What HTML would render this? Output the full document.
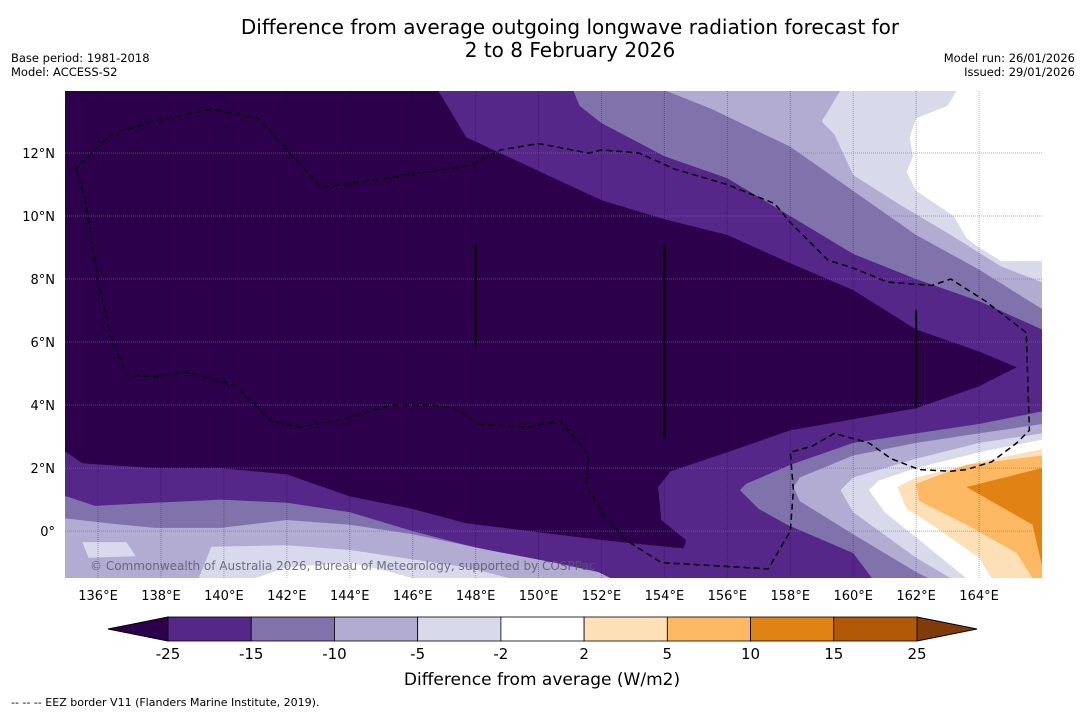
<!DOCTYPE html>
<html><head><meta charset="utf-8"><style>
html,body{margin:0;padding:0;background:#fff;}
svg{display:block;font-family:"DejaVu Sans","Liberation Sans",sans-serif;}
</style></head><body>
<svg id="chart" width="1085" height="713" viewBox="0 0 1085 713" xmlns="http://www.w3.org/2000/svg">
<text x="570" y="34" font-size="20" text-anchor="middle">Difference from average outgoing longwave radiation forecast for</text>
<text x="570" y="57" font-size="20" text-anchor="middle">2 to 8 February 2026</text>
<text x="11" y="62" font-size="11.5">Base period: 1981-2018</text>
<text x="11" y="76" font-size="11.5">Model: ACCESS-S2</text>
<text x="1075" y="62" font-size="11.5" text-anchor="end">Model run: 26/01/2026</text>
<text x="1075" y="76" font-size="11.5" text-anchor="end">Issued: 29/01/2026</text>
<defs><clipPath id="mapclip"><rect x="65" y="91" width="977" height="487"/></clipPath></defs>
<g id="map" clip-path="url(#mapclip)"></g>
<g id="axes"></g>
<g id="cbar"></g>
<text x="542" y="685" font-size="17" text-anchor="middle">Difference from average (W/m2)</text>
<text x="11" y="706" font-size="11">--  --  -- EEZ border V11 (Flanders Marine Institute, 2019).</text>
</svg>
<script>
const lonTicks=[136,138,140,142,144,146,148,150,152,154,156,158,160,162,164];
const latTicks=[0,2,4,6,8,10,12];
const cbLevels=[-25,-15,-10,-5,-2,2,5,10,15,25];
const cbColors=["#542788","#8073ac","#b2abd2","#d8daeb","#ffffff","#fee0b6","#fdb863","#e08214","#b35806"];
const darkRegion=[[134.5,14.5],[146.8,14.5],[146.8,14.0],[147.7,12.5],[152.0,10.5],[154.0,9.9],[156.0,9.4],[158.0,8.5],[160.0,7.65],[162.0,6.4],[164.0,5.7],[165.2,5.2],[164.0,4.6],[162.0,3.9],[160.0,3.55],[158.0,3.2],[156.0,2.5],[154.2,1.9],[153.8,1.4],[153.9,0.35],[154.7,-0.3],[154.6,-0.55],[152.6,-0.35],[150.5,-0.1],[147.7,0.25],[146.0,0.7],[144.0,1.1],[142.0,1.8],[139.9,2.0],[137.8,2.0],[135.5,2.15],[135.0,2.5],[134.5,2.5]];
const topM15=[[151.1,14.5],[151.1,14.0],[151.3,13.5],[152.0,12.95],[154.0,11.9],[156.0,11.2],[158.0,10.0],[160.0,8.8],[162.0,8.0],[164.0,7.3],[166.0,6.4],[167,6.4],[167,14.5]];
const topM10=[[154.0,14.5],[154.0,14.0],[155.5,13.4],[158.0,12.2],[160.0,10.8],[162.0,9.4],[164.0,8.3],[166.0,7.05],[167,7.05],[167,14.5]];
const topM5=[[159.6,14.5],[159.6,14.0],[159.0,13.0],[159.4,12.6],[160.0,11.3],[161.5,10.35],[163.1,9.4],[164.7,8.4],[166.0,7.9],[167,7.9],[167,14.5]];
const topM2=[[163.4,14.5],[163.3,14.0],[163.0,13.5],[162.0,13.1],[161.8,12.5],[161.9,11.9],[161.7,11.4],[162.0,10.8],[163.2,10.0],[163.6,9.3],[164.0,9.0],[164.7,8.57],[166.0,8.57],[167,8.57],[167,14.5]];
const brM15=[[167,3.8],[166.0,3.8],[164.0,3.4],[162.0,3.1],[160.0,2.8],[158.0,2.1],[156.6,1.5],[156.4,1.3],[157.0,0.7],[157.9,0.2],[160.0,-0.7],[160.6,-1.5],[160.6,-2],[167,-2]];
const brM10=[[167,3.4],[166.0,3.4],[164.0,3.1],[162.0,2.8],[160.0,2.4],[158.3,1.7],[158.1,1.4],[158.3,0.95],[160.0,-0.1],[162.0,-1.3],[162.4,-1.5],[162.4,-2],[167,-2]];
const brM5=[[167,3.1],[166.0,3.1],[164.0,2.8],[162.0,2.3],[160.0,1.7],[159.6,1.3],[160.0,0.6],[162.0,-0.85],[163.1,-1.5],[163.1,-2],[167,-2]];
const brM2=[[167,2.9],[166.0,2.9],[164.0,2.5],[162.0,2.0],[160.8,1.6],[160.5,1.3],[161.0,0.6],[162.0,-0.2],[163.6,-1.5],[163.6,-2],[167,-2]];
const brP2=[[167,2.6],[166.0,2.6],[164.0,2.2],[162.0,1.7],[161.4,1.4],[161.7,0.7],[162.5,0.2],[164.0,-0.85],[164.4,-1.5],[164.4,-2],[167,-2]];
const brP5=[[167,2.4],[166.0,2.4],[163.6,2.1],[162.0,1.5],[162.1,0.95],[163.6,0.2],[165.2,-0.7],[165.7,-1.5],[165.7,-2],[167,-2]];
const brP10=[[167,2.0],[166.0,2.0],[163.6,1.4],[165.7,0.2],[166.0,-1.1],[167,-1.1]];
const blM15=[[134,1.1],[135.0,1.1],[135.9,0.8],[137.8,0.9],[139.9,1.0],[142.0,0.9],[144.0,0.6],[146.0,0.0],[148.1,-0.55],[150.0,-1.1],[151.3,-1.5],[151.3,-2],[134,-2]];
const blM10=[[134,0.4],[135.0,0.4],[136.3,0.25],[137.8,0.1],[139.9,0.1],[142.0,0.35],[144.0,0.2],[146.0,-0.1],[148.4,-0.6],[150.5,-1.0],[151.9,-1.3],[152.3,-1.5],[152.3,-2],[134,-2]];
const blM5=[[139.2,-1.5],[139.6,-0.5],[142.0,-0.45],[144.0,-0.6],[146.0,-0.9],[147.7,-1.15],[149.1,-1.5],[149.1,-2],[139.2,-2]];
const blM5b=[[135.5,-0.35],[136.9,-0.35],[137.2,-0.8],[135.7,-0.85]];
const blM2=[[141.0,-1.5],[142.0,-1.15],[144.0,-1.0],[145.1,-1.25],[146.0,-1.5],[146,-2],[141,-2]];
const eez=[[135.3,11.5],[135.6,10.5],[136.0,7.9],[136.4,6.2],[136.9,4.95],[137.8,4.9],[138.8,5.05],[140.4,4.6],[141.5,3.5],[142.4,3.3],[144.0,3.6],[145.3,4.0],[146.6,4.0],[147.3,3.9],[148.1,3.4],[149.6,3.3],[150.7,3.5],[151.6,2.4],[151.5,1.5],[152.0,0.6],[152.8,-0.3],[153.9,-1.0],[157.3,-1.2],[158.0,0.0],[158.1,1.3],[158.0,2.5],[158.7,2.7],[159.4,3.1],[160.5,2.8],[161.2,2.3],[162.1,1.95],[163.1,1.9],[163.6,1.95],[164.4,2.2],[165.2,2.8],[165.6,3.2],[165.5,6.3],[164.2,7.3],[163.1,8.0],[162.5,7.8],[161.1,7.9],[160.0,8.35],[159.2,8.6],[158.0,9.8],[157.5,10.4],[156.0,11.0],[154.3,11.5],[153.2,12.0],[152.0,12.1],[151.6,12.0],[150.0,12.3],[148.8,12.1],[147.8,11.6],[143.1,10.9],[141.1,13.1],[139.6,13.4],[137.7,13.0],[136.4,12.6],[135.3,11.5]];
const vLines=[[148.0,9.1,5.9],[154.0,9.1,2.95],[162.0,7.0,3.9]];

const NS="http://www.w3.org/2000/svg";
const LON0=134.95,LON1=166.0,LAT0=-1.49,LAT1=13.97,X0=65,X1=1042,Y0=578,Y1=91;
function xs(lon){return X0+(lon-LON0)/(LON1-LON0)*(X1-X0);}
function ys(lat){return Y0+(lat-LAT0)/(LAT1-LAT0)*(Y1-Y0);}
function pts(a){return a.map(p=>xs(p[0]).toFixed(1)+","+ys(p[1]).toFixed(1)).join(" ");}
function mk(tag,attrs,parent){const e=document.createElementNS(NS,tag);for(const k in attrs)e.setAttribute(k,attrs[k]);parent.appendChild(e);return e;}
const map=document.getElementById("map");
let r=mk("rect",{x:65,y:91,width:977,height:487,fill:"#542788"},map);


function poly(a,fill,name){const p=mk("polygon",{points:pts(a),fill:fill},map);

}
poly(darkRegion,"#2d004b","region-below-minus25");
poly(topM15,"#8073ac","north-band-minus10-to-minus15");
poly(topM10,"#b2abd2","north-band-minus5-to-minus10");
poly(topM5,"#d8daeb","north-band-minus2-to-minus5");
poly(topM2,"#ffffff","north-band-near-normal");
poly(blM15,"#8073ac","southwest-band-minus10-to-minus15");
poly(blM10,"#b2abd2","southwest-band-minus5-to-minus10");
poly(blM5,"#d8daeb","southwest-band-minus2-to-minus5");
poly(blM5b,"#d8daeb","southwest-patch-minus2-to-minus5");
poly(blM2,"#ffffff","southwest-band-near-normal");
poly(brM15,"#8073ac","southeast-band-minus10-to-minus15");
poly(brM10,"#b2abd2","southeast-band-minus5-to-minus10");
poly(brM5,"#d8daeb","southeast-band-minus2-to-minus5");
poly(brM2,"#ffffff","southeast-band-near-normal");
poly(brP2,"#fee0b6","southeast-band-2-to-5");
poly(brP5,"#fdb863","southeast-band-5-to-10");
poly(brP10,"#e08214","southeast-band-10-to-15");
lonTicks.forEach(l=>{const g=mk("line",{x1:xs(l),x2:xs(l),y1:91,y2:578,stroke:"rgba(0,0,0,0.3)","stroke-width":1,"stroke-dasharray":"1,1"},map);

});
latTicks.forEach(l=>{const g=mk("line",{x1:65,x2:1042,y1:ys(l),y2:ys(l),stroke:"rgba(120,120,120,0.6)","stroke-width":1,"stroke-dasharray":"1,1"},map);

});
vLines.forEach(v=>{const g=mk("line",{x1:xs(v[0]),x2:xs(v[0]),y1:ys(v[1]),y2:ys(v[2]),stroke:"#000","stroke-width":2},map);

});
const ez=mk("polyline",{points:pts(eez),fill:"none",stroke:"#000","stroke-width":1.5,"stroke-dasharray":"6,4"},map);


const cp=mk("text",{x:90,y:570,"font-size":12,fill:"rgba(90,90,110,0.85)"},map);
cp.textContent="© Commonwealth of Australia 2026, Bureau of Meteorology, supported by COSPPac";


const ax=document.getElementById("axes");
lonTicks.forEach(l=>{const t=mk("text",{x:xs(l),y:600,"font-size":13,"text-anchor":"middle"},ax);t.textContent=l+"°E";

});
latTicks.forEach(l=>{const t=mk("text",{x:55,y:ys(l)+5,"font-size":13,"text-anchor":"end"},ax);t.textContent=l===0?"0°":l+"°N";

});
const cb=document.getElementById("cbar");
const CB0=168,CB1=917,CBY=617,CBH=24;
function cx(i){return CB0+i*(CB1-CB0)/(cbLevels.length-1);}
let la=mk("polygon",{points:`108,${CBY+CBH/2} ${CB0},${CBY} ${CB0},${CBY+CBH}`,fill:"#2d004b",stroke:"#000","stroke-width":1},cb);


let ra=mk("polygon",{points:`977,${CBY+CBH/2} ${CB1},${CBY} ${CB1},${CBY+CBH}`,fill:"#7f3b08",stroke:"#000","stroke-width":1},cb);


cbColors.forEach((c,i)=>{const s=mk("rect",{x:cx(i),y:CBY,width:cx(i+1)-cx(i),height:CBH,fill:c,stroke:"#000","stroke-width":0.8},cb);

});
cbLevels.forEach((v,i)=>{const t=mk("text",{x:cx(i),y:659,"font-size":15,"text-anchor":"middle"},cb);t.textContent=v;

});
</script>
</body></html>
